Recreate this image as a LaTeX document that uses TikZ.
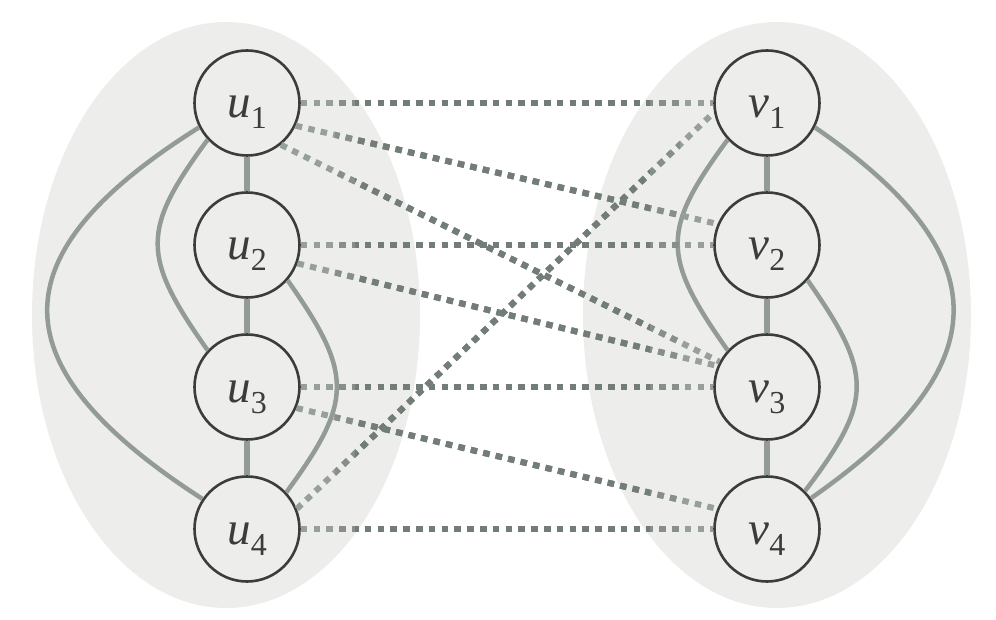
\documentclass[tikz,border=0pt]{standalone}
\usepackage{fontspec}
\setmainfont{Liberation Serif}
\definecolor{bg}{HTML}{EDEDEB}
\definecolor{edgecol}{HTML}{939B95}
\definecolor{dlight}{HTML}{979F99}
\definecolor{dmid}{HTML}{868F89}
\definecolor{ddark}{HTML}{737D77}
\definecolor{ink}{HTML}{3C3C3C}
\newcommand\lbsub[1]{\raisebox{-11pt}{\fontsize{32}{32}\selectfont\upshape #1}}
\newcommand\gradline[2]{%
  \draw[dashedge, dlight] (#1) -- (#2);
  \begin{scope}\clip (335,0) rectangle (680,620);
    \draw[dashedge, dmid] (#1) -- (#2);\end{scope}
  \begin{scope}\clip (355,0) rectangle (650,620);
    \draw[dashedge, ddark] (#1) -- (#2);\end{scope}}
\begin{document}
\begin{tikzpicture}[x=1pt,y=-1pt,
  vert/.style={circle, draw=ink, line width=2.6pt, fill=bg, minimum size=105pt,
    inner sep=0pt, text=ink, font=\fontsize{47}{47}\selectfont\itshape,
    text height=30pt, text depth=0pt},
  solidedge/.style={draw=edgecol, line width=4.5pt},
  rung/.style={draw=edgecol, line width=5.5pt},
  dashedge/.style={line width=6pt, dash pattern=on 6.5pt off 6.3pt}]
\useasboundingbox (0,0) rectangle (996,620);
\fill[bg] (226,315) ellipse [x radius=194pt, y radius=293pt];
\fill[bg] (777,315) ellipse [x radius=194pt, y radius=293pt];

\node[vert] (u1) at (247,103) {u\lbsub{1}};
\node[vert] (u2) at (247,245) {u\lbsub{2}};
\node[vert] (u3) at (247,387) {u\lbsub{3}};
\node[vert] (u4) at (247,529) {u\lbsub{4}};
\node[vert] (v1) at (767,103) {v\lbsub{1}};
\node[vert] (v2) at (767,245) {v\lbsub{2}};
\node[vert] (v3) at (767,387) {v\lbsub{3}};
\node[vert] (v4) at (767,529) {v\lbsub{4}};

\draw[rung] (u1) -- (u2);
\draw[rung] (u2) -- (u3);
\draw[rung] (u3) -- (u4);
\draw[rung] (v1) -- (v2);
\draw[rung] (v2) -- (v3);
\draw[rung] (v3) -- (v4);

\draw[solidedge] (u1.207) .. controls (-6,256) and (-2,367) .. (u4.146);
\draw[solidedge] (u1.223) .. controls (141,230) and (141,256) .. (u3.137);
\draw[solidedge] (u2.-41) .. controls (353.5,374) and (353.5,401) .. (u4.43);
\draw[solidedge] (v1.223) .. controls (661,230) and (661,256) .. (v3.137);
\draw[solidedge] (v2.-41) .. controls (873.5,374) and (873.5,401) .. (v4.45);
\draw[solidedge] (v1.-27) .. controls (1002,256) and (999,367) .. (v4.35);

\gradline{u1.0}{v1.180}
\gradline{u1.-25}{v2.157}
\gradline{u1.-51}{v3.152}
\gradline{u2.0}{v2.180}
\gradline{u2.-20}{v3.157}
\gradline{u3.0}{v3.180}
\gradline{u3.-23}{v4.158}
\gradline{u4.0}{v4.180}
\gradline{u4.22}{v1.190}
\end{tikzpicture}
\end{document}
